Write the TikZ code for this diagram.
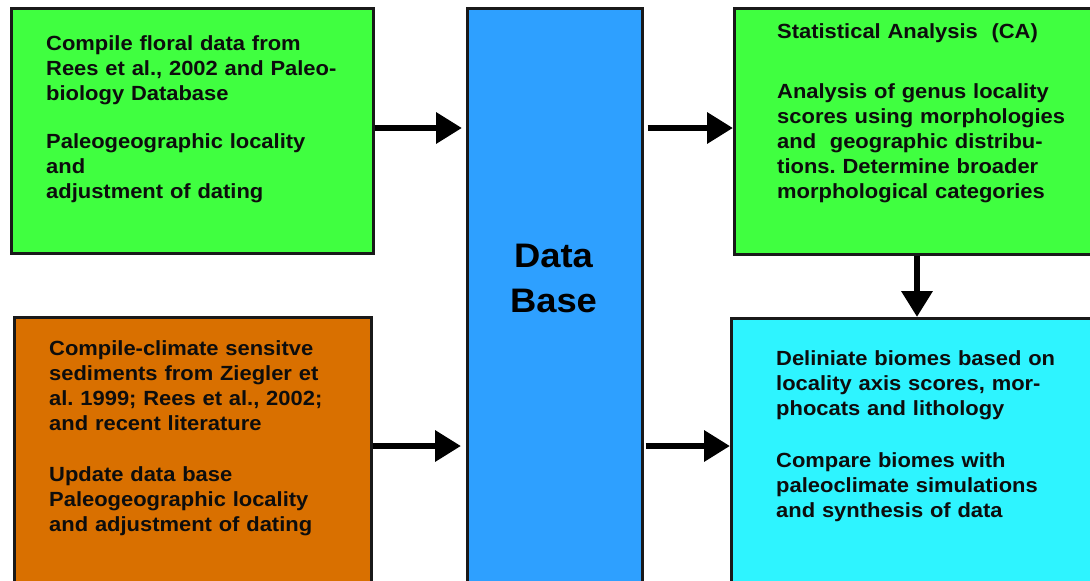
\documentclass[tikz,border=0pt]{standalone}
\usepackage{fontspec}
\setmainfont{Liberation Sans}[FakeStretch=1.07]
\usetikzlibrary{arrows.meta,positioning}
\definecolor{floragreen}{RGB}{64,255,64}
\definecolor{sedorange}{RGB}{217,112,0}
\definecolor{dbblue}{RGB}{46,160,255}
\definecolor{biomecyan}{RGB}{46,244,255}
\frenchspacing
\tikzset{font=\bfseries\fontsize{20.5}{25}\selectfont}
\tikzset{stage/.style={draw=black!90, line width=2.5pt, anchor=north west, inner sep=0pt}}
\tikzset{note/.style={anchor=base west, inner sep=0pt, align=left, text width=330pt, text=black!95}}
\tikzset{flow/.style={line width=6.5pt, -{Triangle[length=26pt,width=30pt]}}}

\begin{document}
\begin{tikzpicture}[x=1pt,y=-1pt]
  \clip (0,0) rectangle (1090,581);
  % boxes
  \node[stage, fill=floragreen, minimum width=362pt, minimum height=245pt] (floraBox) at (10,7) {};
  \node[stage, fill=sedorange, minimum width=357pt, minimum height=290pt] (climBox) at (13,316) {};
  \node[stage, fill=dbblue, minimum width=175pt, minimum height=600pt] (dbBox) at (466,7) {};
  \node[stage, fill=floragreen, minimum width=370pt, minimum height=246pt] (statBox) at (733,7) {};
  \node[stage, fill=biomecyan, minimum width=370pt, minimum height=290pt] (biomeBox) at (730,317) {};
  % texts
  \node[note] (floraTxt) at (46,50) {Compile floral data from\\
    Rees et al., 2002 and Paleo-\\
    biology Database\\[23pt]
    Paleogeographic locality\\
    and\\
    adjustment of dating};
  \node[note] (climTxt) at (49,355) {Compile-climate sensitve\\
    sediments from Ziegler et\\
    al. 1999; Rees et al., 2002;\\
    and recent literature\\[26pt]
    Update data base\\
    Paleogeographic locality\\
    and adjustment of dating};
  \node[note] (statTxt) at (777,38) {Statistical Analysis~~(CA)\\[35pt]
    Analysis of genus locality\\
    scores using morphologies\\
    and~~geographic distribu-\\
    tions. Determine broader\\
    morphological categories};
  \node[note] (biomeTxt) at (776,365) {Deliniate biomes based on\\
    locality axis scores, mor-\\
    phocats and lithology\\[27pt]
    Compare biomes with\\
    paleoclimate simulations\\
    and synthesis of data};
  \node[anchor=base, inner sep=0pt, text width=150pt, align=center,
    font=\bfseries\fontsize{34}{45}\selectfont] (dbTxt) at (553.5,267) {Data\\Base};
  % connectors
  \coordinate (upRow) at (0,128);
  \coordinate (lowRow) at (0,446);
  \draw[flow, shorten >=4pt] (floraBox.east |- upRow) -- (dbBox.west |- upRow);
  \draw[flow, shorten >=5pt] (climBox.east |- lowRow) -- (dbBox.west |- lowRow);
  \draw[flow, shorten <=4pt] (dbBox.east |- upRow) -- (statBox.west |- upRow);
  \draw[flow, shorten <=2pt] (dbBox.east |- lowRow) -- (biomeBox.west |- lowRow);
  \draw[flow] (statBox.south -| 917,0) -- (biomeBox.north -| 917,0);
\end{tikzpicture}
\end{document}
